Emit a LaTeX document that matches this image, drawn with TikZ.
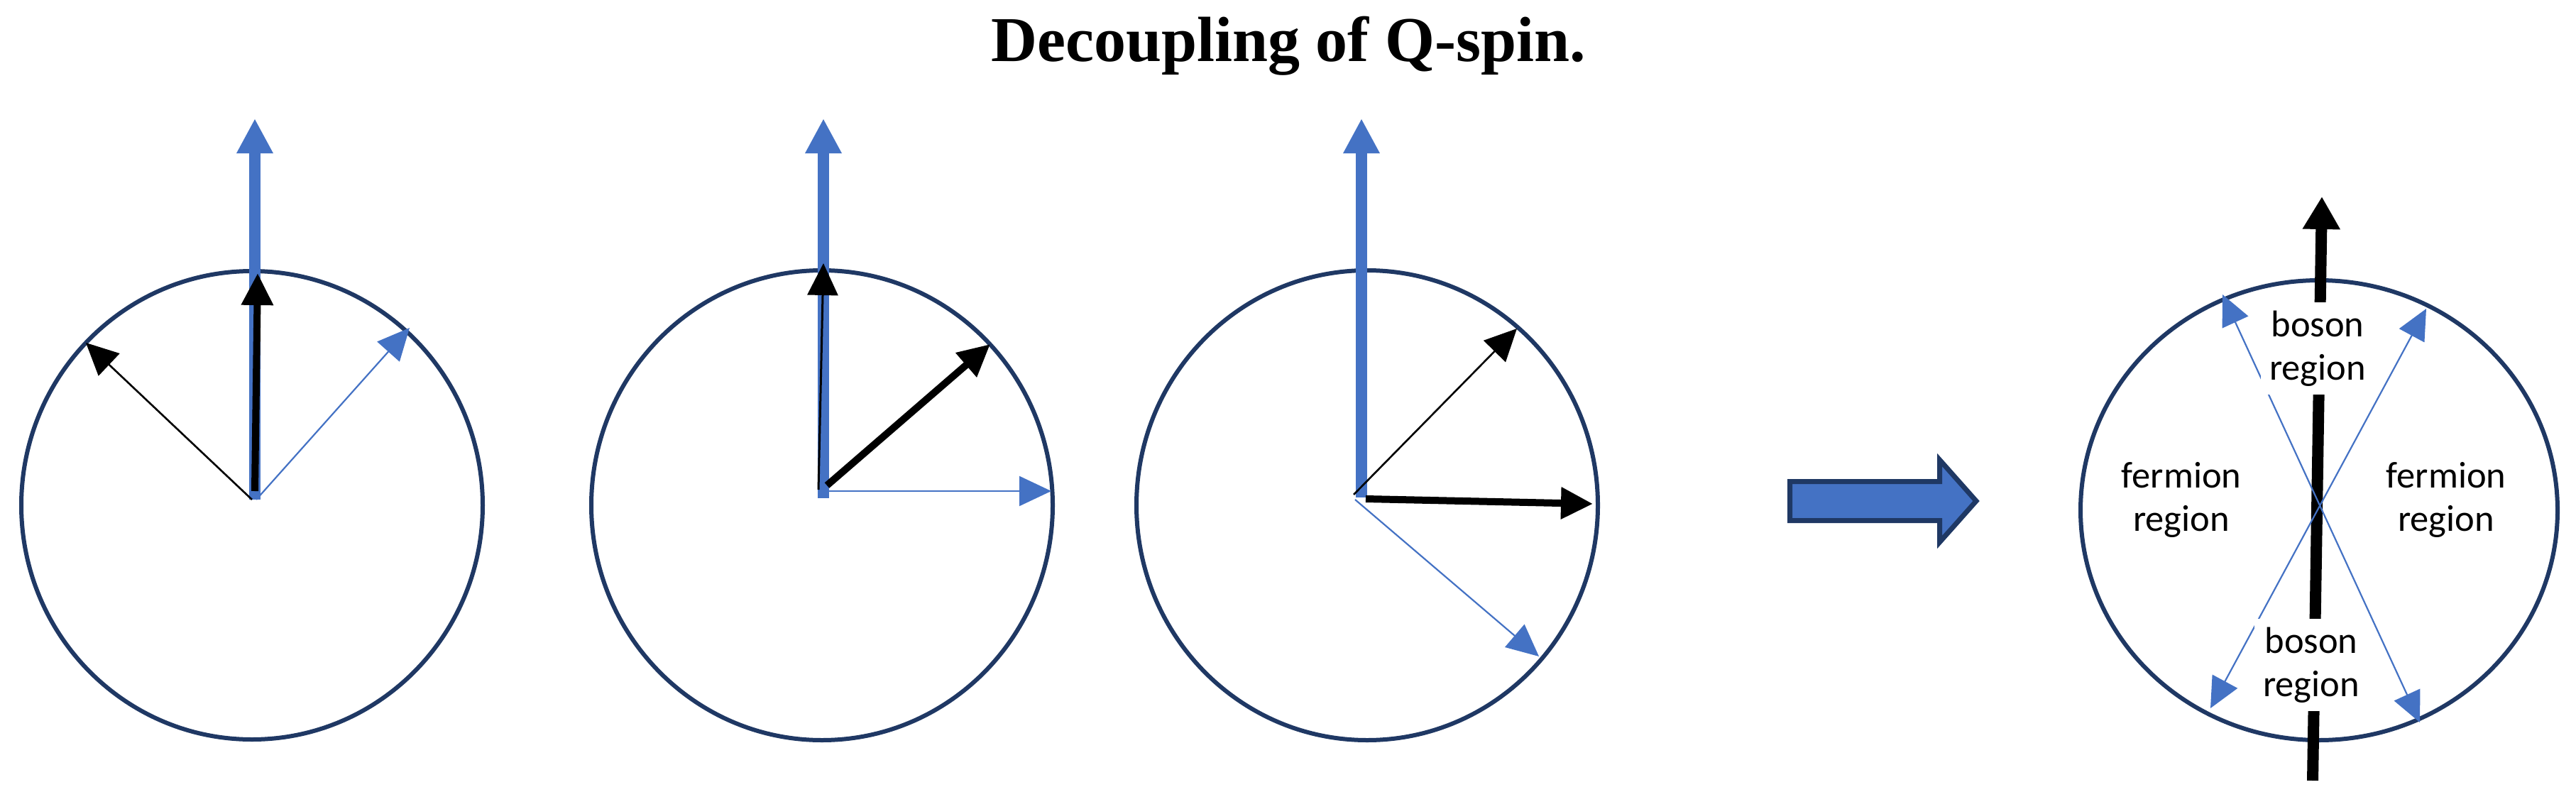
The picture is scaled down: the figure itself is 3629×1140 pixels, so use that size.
\documentclass[tikz,border=0pt]{standalone}
\usepackage{fontspec}
\usetikzlibrary{arrows.meta}
\newfontfamily\titlefont{Liberation Serif}
\newfontfamily\labelfont{Carlito}
\definecolor{qblue}{HTML}{4472C4}
\definecolor{qnavy}{HTML}{1F3864}
\begin{document}
\begin{tikzpicture}[x=1pt,y=-1pt,
  ring/.style={draw=qnavy,line width=6pt},
  bigblue/.style={draw=qblue,line width=16pt,-{Triangle[length=49pt,width=48pt]}},
  thickblack/.style={draw=black,line width=10pt,-{Triangle[length=45pt,width=43pt]}},
  thinblack/.style={draw=black,line width=2.6pt,-{Triangle[length=45pt,width=43pt]}},
  thinblue/.style={draw=qblue,line width=2.2pt,-{Triangle[length=45pt,width=42pt]}},
  dblblue/.style={draw=qblue,line width=2.2pt,{Triangle[length=43pt,width=40pt]}-{Triangle[length=43pt,width=40pt]}},
  axisblack/.style={draw=black,line width=16pt,-{Triangle[length=46pt,width=50pt]}},
  lbl/.style={font=\labelfont\fontsize{52.5}{61}\selectfont,align=center,fill=white,inner sep=12pt},
  blockarrow/.style={draw=qnavy,fill=qblue,line width=7pt,line join=miter}
]
\useasboundingbox (0,0) rectangle (3629,1140);

% title
\node[anchor=base,font=\titlefont\bfseries\fontsize{90}{100}\selectfont] (title) at (1815,86) {Decoupling of Q-spin.};

% ---------- circle 1 ----------
\coordinate (c1) at (355,712);
\draw[ring] (c1) ellipse [x radius=325pt, y radius=330pt];
\coordinate (o1) at (359,704);
\coordinate (b1) at (359,167);
\draw[bigblue] (o1) -- (b1);
\coordinate (k1s) at (359,692);
\coordinate (k1) at (363,385);
\draw[thickblack] (k1s) -- (k1);
\coordinate (t1s) at (355,704);
\coordinate (t1) at (121,483);
\draw[thinblack] (t1s) -- (t1);
\coordinate (u1s) at (361,704);
\coordinate (u1) at (577,462);
\draw[thinblue] (u1s) -- (u1);

% ---------- circle 2 ----------
\coordinate (c2) at (1158,712);
\draw[ring] (c2) ellipse [x radius=325pt, y radius=331pt];
\coordinate (o2) at (1160,702);
\coordinate (b2) at (1160,167);
\draw[bigblue] (o2) -- (b2);
\coordinate (t2s) at (1153,690);
\coordinate (t2) at (1160,371);
\draw[thinblack,line width=3pt] (t2s) -- (t2);
\coordinate (k2s) at (1165,684);
\coordinate (k2) at (1395,485);
\draw[thickblack] (k2s) -- (k2);
\coordinate (u2s) at (1168,692);
\coordinate (u2) at (1481,692);
\draw[thinblue] (u2s) -- (u2);

% ---------- circle 3 ----------
\coordinate (c3) at (1926,712);
\draw[ring] (c3) ellipse [x radius=325pt, y radius=331pt];
\coordinate (o3) at (1918,701);
\coordinate (b3) at (1918,167);
\draw[bigblue] (o3) -- (b3);
\coordinate (t3s) at (1907,697);
\coordinate (t3) at (2137,463);
\draw[thinblack] (t3s) -- (t3);
\coordinate (k3s) at (1924,703);
\coordinate (k3) at (2244,710);
\draw[thickblack] (k3s) -- (k3);
\coordinate (u3s) at (1909,704);
\coordinate (u3) at (2168,925);
\draw[thinblue] (u3s) -- (u3);

% ---------- block arrow ----------
\draw[blockarrow] (2521.5,678.5) -- (2732.5,678.5) -- (2732.5,648) -- (2784,706)
  -- (2732.5,764) -- (2732.5,733.5) -- (2521.5,733.5) -- cycle;

% ---------- circle 4 ----------
\coordinate (c4) at (3267,719);
\draw[ring] (c4) ellipse [x radius=336pt, y radius=324pt];
\coordinate (a4s) at (3258,1100);
\coordinate (a4) at (3271,277);
\draw[axisblack] (a4s) -- (a4);
\coordinate (ul) at (3131,415);
\coordinate (lr) at (3409,1018);
\coordinate (ur) at (3418,435);
\coordinate (ll) at (3114,998);
\draw[dblblue] (ul) -- (lr);
\draw[dblblue] (ll) -- (ur);

\node[lbl] (bosontop) at (3265,491) {boson\\region};
\node[lbl] (bosonbot) at (3256,937) {boson\\region};
\node[lbl,fill=none] (fermleft) at (3073,704) {fermion\\region};
\node[lbl,fill=none] (fermright) at (3446,704) {fermion\\region};
\end{tikzpicture}
\end{document}
